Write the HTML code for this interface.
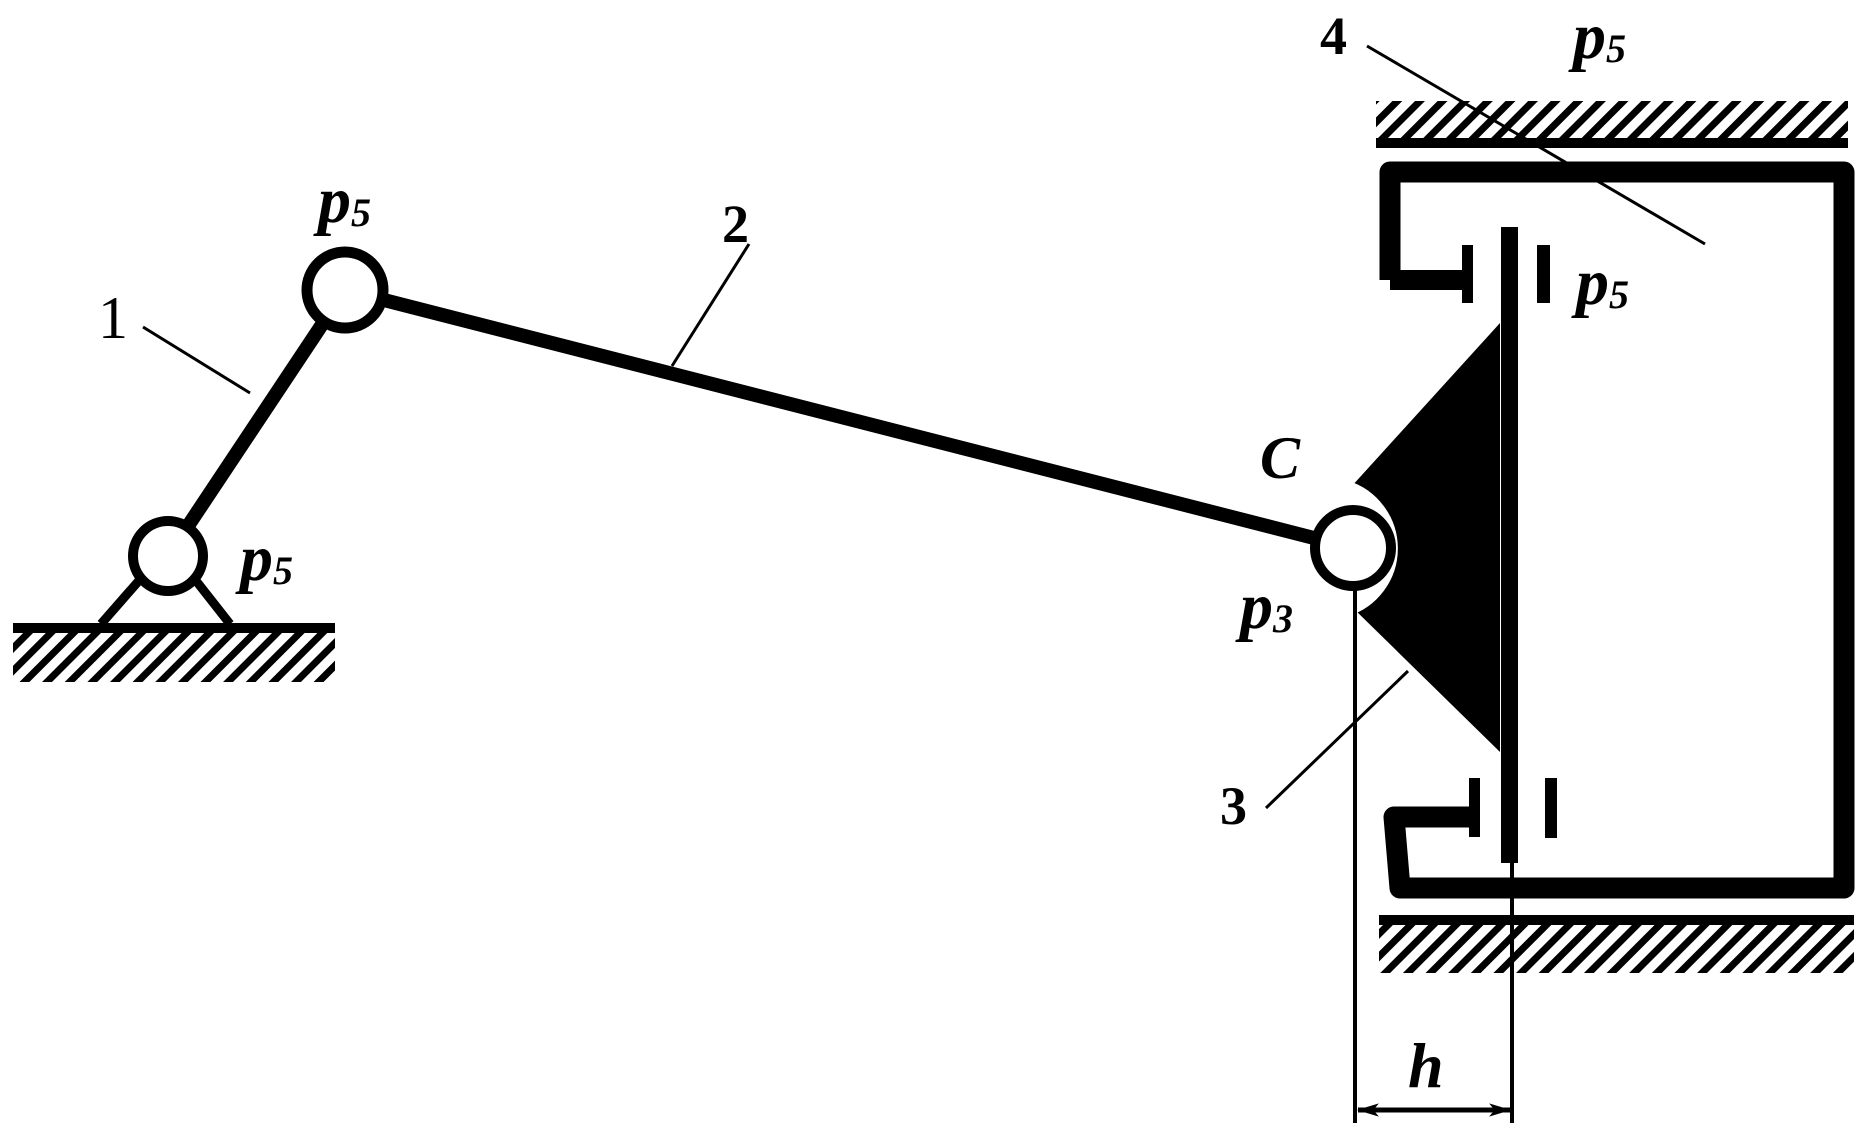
<!DOCTYPE html>
<html><head><meta charset="utf-8"><style>
html,body{margin:0;padding:0;background:#fff;}
svg{display:block;}
text{font-family:"Liberation Serif",serif;font-weight:bold;font-style:italic;fill:#000;}
.n{font-style:normal;}
</style></head><body>
<svg width="1860" height="1131" viewBox="0 0 1860 1131" xmlns="http://www.w3.org/2000/svg">
<defs>
<pattern id="h" patternUnits="userSpaceOnUse" width="16" height="16" patternTransform="rotate(45)">
<rect x="0" y="0" width="7" height="16" fill="#000"/>
</pattern>
<marker id="ar" viewBox="0 0 20 12" refX="19" refY="6" markerWidth="22" markerHeight="14" markerUnits="userSpaceOnUse" orient="auto-start-reverse">
<path d="M0,0 L20,6 L0,12 L5,6 Z" fill="#000"/>
</marker>
</defs>

<!-- left ground -->
<rect x="13" y="633" width="322" height="49" fill="url(#h)"/>
<rect x="13" y="623" width="322" height="10" fill="#000"/>
<line x1="101" y1="624" x2="150" y2="568" stroke="#000" stroke-width="9"/>
<line x1="230" y1="624" x2="186" y2="568" stroke="#000" stroke-width="9"/>

<!-- links -->
<line x1="168" y1="556" x2="345" y2="290" stroke="#000" stroke-width="14"/>
<line x1="345" y1="290" x2="1353" y2="548" stroke="#000" stroke-width="14"/>
<line x1="143" y1="327" x2="250" y2="393" stroke="#000" stroke-width="3"/>
<line x1="749" y1="244" x2="672" y2="366" stroke="#000" stroke-width="3"/>

<circle cx="168" cy="556" r="35" fill="#fff" stroke="#000" stroke-width="10"/>
<circle cx="345" cy="290" r="38" fill="#fff" stroke="#000" stroke-width="11"/>

<!-- top ground -->
<rect x="1376" y="101" width="472" height="37" fill="url(#h)"/>
<rect x="1376" y="138" width="472" height="10" fill="#000"/>
<!-- bottom ground -->
<rect x="1379" y="925" width="475" height="48" fill="url(#h)"/>
<rect x="1379" y="915" width="475" height="10" fill="#000"/>

<!-- frame -->
<path d="M1390,280 L1390,172 L1844,172 L1844,888 L1400,888 L1394,817 L1470,817" fill="none" stroke="#000" stroke-width="21" stroke-linejoin="round"/>
<line x1="1390" y1="280" x2="1464" y2="280" stroke="#000" stroke-width="20"/>
<rect x="1462" y="245" width="11" height="58" fill="#000"/>
<rect x="1537" y="245" width="13" height="58" fill="#000"/>
<rect x="1469" y="778" width="11" height="59" fill="#000"/>
<rect x="1545" y="778" width="12" height="60" fill="#000"/>

<!-- slider triangle + bar -->
<polygon points="1500,323 1351,487 1351,606 1500,752" fill="#000"/>
<rect x="1501" y="227" width="17" height="636" fill="#000"/>
<line x1="1512" y1="860" x2="1512" y2="1123" stroke="#000" stroke-width="4"/>
<path d="M1344,491 A60,60 0 0 1 1344,606" fill="none" stroke="#fff" stroke-width="22"/>
<circle cx="1353" cy="548" r="38" fill="#fff" stroke="#000" stroke-width="10"/>

<!-- leaders -->
<line x1="1367" y1="46" x2="1705" y2="244" stroke="#000" stroke-width="3"/>
<line x1="1266" y1="808" x2="1408" y2="671" stroke="#000" stroke-width="3"/>

<!-- dimension -->
<line x1="1355" y1="590" x2="1355" y2="1123" stroke="#000" stroke-width="4"/>
<line x1="1358" y1="1110" x2="1510" y2="1110" stroke="#000" stroke-width="5" marker-start="url(#ar)" marker-end="url(#ar)"/>

<!-- labels -->
<text x="318" y="222" font-size="66">p<tspan font-size="40" dy="4">5</tspan></text>
<text x="240" y="580" font-size="66">p<tspan font-size="40" dy="4">5</tspan></text>
<text x="1573" y="58" font-size="66">p<tspan font-size="40" dy="4">5</tspan></text>
<text x="1576" y="304" font-size="66">p<tspan font-size="40" dy="4">5</tspan></text>
<text x="1240" y="628" font-size="66">p<tspan font-size="40" dy="4">3</tspan></text>
<text x="1260" y="478" font-size="60">C</text>
<text x="1408" y="1087" font-size="64">h</text>
<text x="1320" y="54" font-size="54" class="n">4</text>
<text x="722" y="242" font-size="54" class="n">2</text>
<text x="1220" y="824" font-size="54" class="n">3</text>
<text x="98" y="338" font-size="60" style="font-weight:normal;font-style:normal">1</text>
</svg>
</body></html>
